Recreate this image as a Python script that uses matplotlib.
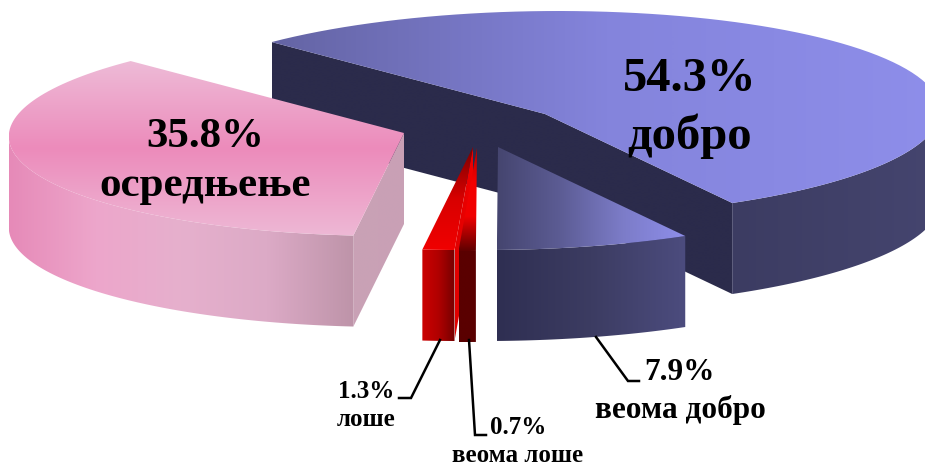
import numpy as np
import matplotlib
matplotlib.use("Agg")
import matplotlib.pyplot as plt
from matplotlib.colors import LinearSegmentedColormap
from matplotlib.patches import Polygon

# --- data (clockwise from the back-left edge of the largest slice)
categories = ["добро", "веома добро", "веома лоше", "лоше", "осредњење"]
shares = [54.3, 7.9, 0.7, 1.3, 35.8]
percent_labels = ["54.3%", "7.9%", "0.7%", "1.3%", "35.8%"]

# --- layout: exploded slice tips, in pixels of the 925x466 canvas
tips = [(545, 114), (498, 147), (477, 148), (473, 147), (404, 133)]
START_DEG = 135.7
RX, RY, DEPTH, SHEAR = 395.0, 103.0, 91.0, -0.13

fig = plt.figure(figsize=(9.25, 4.66), dpi=100, facecolor="white")
ax = fig.add_axes([0, 0, 1, 1])
ax.set_axis_off()
plt.rcParams["font.family"] = ["Liberation Serif", "DejaVu Serif"]


def project(tip, deg):
    t = np.radians(deg)
    dy = -RY * np.sin(t)
    return tip[0] + RX * np.cos(t) + SHEAR * dy, tip[1] + dy


def shade(verts, stops, direction=(1, 0), z=1):
    """Fill a polygon with a linear gradient, clipped to the polygon."""
    verts = np.asarray(verts, float)
    x0, y0 = verts.min(axis=0)
    x1, y1 = verts.max(axis=0)
    w, h = max(int(x1 - x0) * 2, 2), max(int(y1 - y0) * 2, 2)
    xx, yy = np.meshgrid(np.linspace(x0, x1, w), np.linspace(y0, y1, h))
    u = xx * direction[0] + yy * direction[1]
    pv = verts[:, 0] * direction[0] + verts[:, 1] * direction[1]
    u = (u - pv.min()) / (pv.max() - pv.min())
    cmap = LinearSegmentedColormap.from_list("g", stops)
    im = ax.imshow(u, extent=(x0, x1, y1, y0), origin="upper", cmap=cmap,
                   vmin=0, vmax=1, aspect="auto", interpolation="bilinear", zorder=z)
    im.set_clip_path(Polygon(verts, closed=True, transform=ax.transData))


def arc(tip, a, b, n=90):
    return np.array([project(tip, d) for d in np.linspace(a, b, n)])


def drop(pts):
    return np.asarray(pts) + np.array([0, DEPTH])


def band(upper):
    return np.vstack([upper, drop(upper)[::-1]])


# angular bounds of every slice, clockwise
bounds = START_DEG - np.concatenate([[0], np.cumsum(shares)]) * 3.6
a_big, a_vg, a_vb, a_b, a_mid = [(bounds[i], bounds[i + 1]) for i in range(5)]
tip_big, tip_vg, tip_vb, tip_b, tip_mid = [np.array(p, float) for p in tips]

# largest slice
big_top = np.vstack([[tip_big], arc(tip_big, *a_big)])
cut = np.array([project(tip_big, a_big[0]), tip_big, project(tip_big, a_big[1])])
shade(band(cut), ["#2b2b4b", "#2b2b4b"], z=1)
shade(band(arc(tip_big, a_big[1], 0)), ["#3c3c62", "#45456f"], z=1.1)
shade(big_top, ["#6464a4", "#8484dc", "#8e8eea"], z=1.2)

# middle slice
mid_top = np.vstack([[tip_mid], arc(tip_mid, *a_mid)])
cut = np.array([tip_mid, project(tip_mid, a_mid[0])])
shade(band(cut), ["#c9a2b6", "#c9a0b5"], z=2)
shade(band(arc(tip_mid, a_mid[0], -180)),
      ["#e68ab8", "#eda6cb", "#e6b0cd", "#dcaac6", "#be94a9"], z=2.1)
shade(mid_top, ["#eebbd7", "#ec8bbb", "#eeb8d5"], direction=(0, 1), z=2.2)

# small red slices
cut = np.array([tip_b, project(tip_b, a_b[0])])
shade(band(cut), ["#e00000", "#f00000"], z=3)
shade(band(arc(tip_b, a_b[1], a_b[0])), ["#cc0000", "#b00000", "#760000"], z=3.1)
shade(np.vstack([[tip_b], arc(tip_b, *a_b)]), ["#f00000", "#d80000", "#7a0000"],
      direction=(0, -1), z=3.2)
shade(band(arc(tip_vb, a_vb[1], a_vb[0])), ["#5a0000", "#5a0000"], z=3.3)
shade(np.vstack([[tip_vb], arc(tip_vb, *a_vb)]), ["#b80000", "#f40000", "#f00000", "#600000"],
      direction=(0, 1), z=3.4)

# lower right slice
shade(band(arc(tip_vg, a_vg[1], a_vg[0])), ["#2f2f52", "#3c3c62", "#4c4c7e"], z=4)
shade(np.vstack([[tip_vg], arc(tip_vg, *a_vg)]),
      ["#45456f", "#5c5c94", "#7c7cc8", "#8e8eea"], z=4.1)

# leader lines
leaders = [([440, 411, 399], [340, 398, 398]),
           ([469, 475, 486], [340, 435, 435]),
           ([596, 628, 639], [337, 381, 381])]
for lx, ly in leaders:
    ax.plot(lx, ly, color="black", lw=1.8, zorder=5, solid_joinstyle="miter")

# labels
style = dict(ha="center", va="center", fontweight="bold", color="black",
             family=["Liberation Serif", "DejaVu Serif"], zorder=6)
ax.text(690, 79, percent_labels[0], fontsize=35, **style)
ax.text(690, 136, categories[0], fontsize=35, **style)
ax.text(205, 137, percent_labels[4], fontsize=31, **style)
ax.text(205, 186, categories[4], fontsize=31, **style)
ax.text(679, 373, percent_labels[1], fontsize=22.5, **style)
ax.text(680, 410, categories[1], fontsize=22.5, **style)
ax.text(366, 391, percent_labels[3], fontsize=18, **style)
ax.text(366, 419, categories[3], fontsize=18, **style)
ax.text(518, 428, percent_labels[2], fontsize=18, **style)
ax.text(518, 456, categories[2], fontsize=18, **style)

ax.set_xlim(0, 925)
ax.set_ylim(466, 0)
fig.savefig("out.png", dpi=100, facecolor="white")
